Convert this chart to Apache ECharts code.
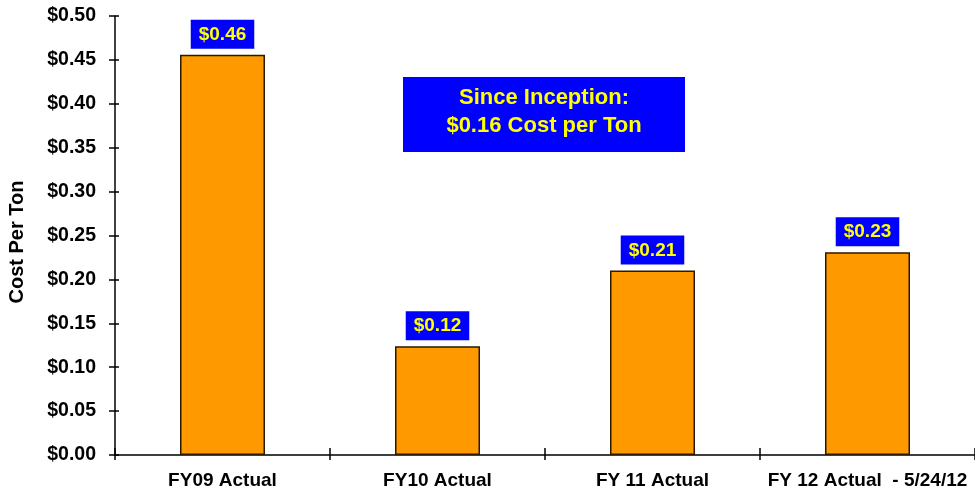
<!DOCTYPE html>
<html>
<head>
<meta charset="utf-8">
<script src="https://cdn.jsdelivr.net/npm/echarts@6/dist/echarts.min.js"></script>
<style>
html,body{margin:0;padding:0;background:#fff;}
#c{width:975px;height:492px;}
</style>
</head>
<body>
<div id="c"></div>
<script>
var categories = ['FY09 Actual', 'FY10 Actual', 'FY 11 Actual', 'FY 12 Actual  - 5/24/12'];
var costPerTon = [0.456, 0.124, 0.21, 0.231];
var yTicks = { min: 0, max: 0.5, interval: 0.05 };
var axisName = 'Cost Per Ton';
var noteLines = ['Since Inception:', '$0.16 Cost per Ton'];

var FONT = '"Liberation Sans", Arial, sans-serif';
var chart = echarts.init(document.getElementById('c'), null, { renderer: 'canvas' });
chart.setOption({
  animation: false,
  backgroundColor: '#ffffff',
  textStyle: { fontFamily: FONT },
  grid: { left: 115, right: -2, top: 16, bottom: 37, containLabel: false },
  xAxis: [{
    type: 'category', data: categories, position: 'bottom',
    axisLine: { show: true, onZero: false, lineStyle: { color: '#000', width: 1.5 } },
    axisTick: { show: true, inside: false, length: 5, lineStyle: { color: '#000', width: 1.5 } },
    axisLabel: { color: '#000', fontSize: 19, fontWeight: 'bold', fontFamily: FONT, margin: 16, interval: 0 },
    splitLine: { show: false }
  }, {
    type: 'category', data: categories, position: 'bottom',
    axisLine: { show: false },
    axisTick: { show: true, inside: true, length: 7, lineStyle: { color: '#000', width: 1.5 } },
    axisLabel: { show: false },
    splitLine: { show: false }
  }],
  yAxis: [{
    type: 'value', min: yTicks.min, max: yTicks.max, interval: yTicks.interval,
    axisLine: { show: true, lineStyle: { color: '#000', width: 1.5 } },
    axisTick: { show: true, inside: false, length: 6, lineStyle: { color: '#000', width: 1.5 } },
    axisLabel: { color: '#000', fontSize: 19.5, fontWeight: 'bold', fontFamily: FONT, margin: 19,
      formatter: function (v) { return '$' + v.toFixed(2); } },
    splitLine: { show: false }
  }, {
    type: 'value', min: yTicks.min, max: yTicks.max, interval: yTicks.interval, position: 'left',
    axisLine: { show: false },
    axisTick: { show: true, inside: true, length: 4, lineStyle: { color: '#000', width: 1.5 } },
    axisLabel: { show: false },
    splitLine: { show: false }
  }],
  series: [{
    type: 'bar', data: costPerTon, xAxisIndex: 0, yAxisIndex: 0,
    barWidth: 85,
    itemStyle: { color: '#FF9900', borderColor: '#2a1a00', borderWidth: 1.5 },
    label: {
      show: true, position: 'top', distance: 6,
      formatter: function (p) { return '$' + p.value.toFixed(2); },
      backgroundColor: '#0000FF', color: '#FFFF00',
      fontSize: 19, fontWeight: 'bold', fontFamily: FONT,
      padding: [6, 8, 5, 8], lineHeight: 18
    }
  }],
  graphic: [{
    type: 'text', x: 17, y: 242, rotation: Math.PI / 2,
    style: {
      text: axisName, fill: '#000', font: 'bold 20px ' + FONT,
      align: 'center', verticalAlign: 'middle'
    }
  }, {
    type: 'group', left: 403, top: 77,
    children: [{
      type: 'rect', shape: { x: 0, y: 0, width: 282, height: 75 },
      style: { fill: '#0000FF' }
    }, {
      type: 'text', x: 141, y: 35,
      style: {
        text: noteLines.join('\n'), fill: '#FFFF00',
        font: 'bold 22px ' + FONT, align: 'center', verticalAlign: 'middle',
        lineHeight: 28
      }
    }]
  }]
});
</script>
</body>
</html>
